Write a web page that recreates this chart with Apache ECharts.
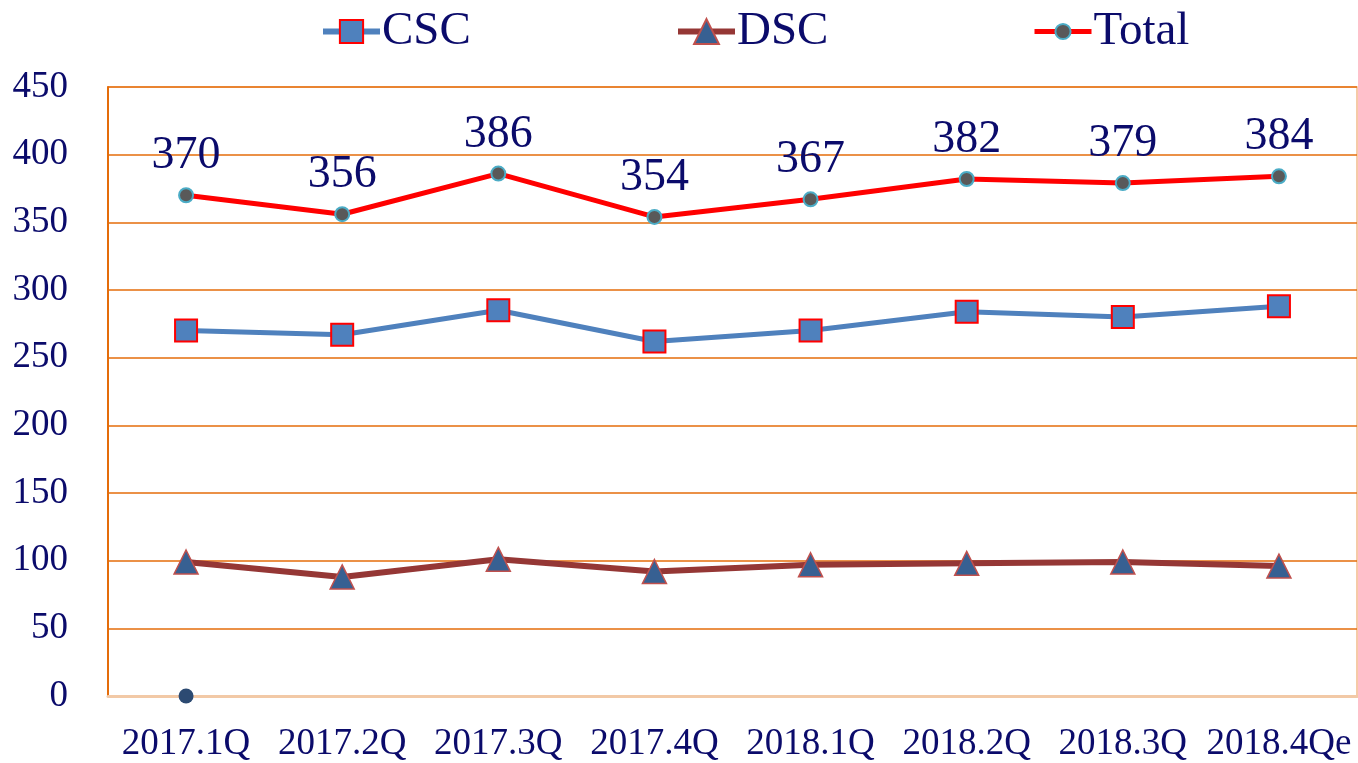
<!DOCTYPE html>
<html>
<head>
<meta charset="utf-8">
<script src="https://cdn.jsdelivr.net/npm/echarts@6/dist/echarts.min.js"></script>
<style>
  html, body { margin: 0; padding: 0; background: #fff; }
  #chart { width: 1358px; height: 763px; }
</style>
</head>
<body>
<div id="chart"></div>
<script>
// Quarters on the x axis
const quarters = ['2017.1Q', '2017.2Q', '2017.3Q', '2017.4Q', '2018.1Q', '2018.2Q', '2018.3Q', '2018.4Qe'];
// Series values
const cscValues = [270, 267, 285, 262, 270, 284, 280, 288];
const dscValues = [99, 88, 101, 92, 97, 98, 99, 96];
const totalValues = [370, 356, 386, 354, 367, 382, 379, 384];
// Stray point sitting on zero at the first quarter
const zeroDot = [0, null, null, null, null, null, null, null];

const navy = '#0b0b6b';
const serif = '"Liberation Serif", "DejaVu Serif", serif';

// one legend per series so every icon can have its own size
function legendFor(name, left, itemHeight, lineWidth) {
  return {
    data: [{ name: name, lineStyle: { width: lineWidth } }],
    top: 3,
    left: left,
    itemWidth: 57,
    itemHeight: itemHeight,
    textStyle: { fontFamily: serif, fontSize: 47, color: navy, padding: [0, 0, 0, -3] }
  };
}

const chart = echarts.init(document.getElementById('chart'), null, { renderer: 'canvas' });

chart.setOption({
  animation: false,
  backgroundColor: '#fff',
  textStyle: { fontFamily: serif },
  legend: [
    legendFor('CSC', 315, 29, 6),
    legendFor('DSC', 670, 31, 6),
    legendFor('Total', 1027, 19, 5)
  ],
  grid: {
    left: 108, right: 1, top: 87, bottom: 65,
    show: true, borderColor: '#F3B98A', borderWidth: 1.5
  },
  xAxis: {
    type: 'category',
    data: quarters,
    axisLine: { lineStyle: { color: '#F2C9A6', width: 3 } },
    axisTick: { show: false },
    axisLabel: { interval: 0, fontFamily: serif, fontSize: 37, color: navy, margin: 30 }
  },
  yAxis: {
    type: 'value',
    min: 0, max: 450, interval: 50,
    axisLine: { show: true, lineStyle: { color: '#E46C0A', width: 2 } },
    axisTick: { show: false },
    splitLine: { lineStyle: { color: '#E46C0A', width: 1.5 } },
    axisLabel: { fontFamily: serif, fontSize: 37, color: navy, margin: 40 }
  },
  series: [
    {
      name: 'CSC',
      type: 'line',
      data: cscValues,
      symbol: 'rect',
      symbolSize: 22,
      lineStyle: { color: '#4F81BD', width: 5 },
      itemStyle: { color: '#4F81BD', borderColor: '#FF0000', borderWidth: 2 }
    },
    {
      name: 'DSC',
      type: 'line',
      data: dscValues,
      symbol: 'triangle',
      symbolSize: 24,
      lineStyle: { color: '#953735', width: 6 },
      itemStyle: { color: '#376092', borderColor: '#C0504D', borderWidth: 1.5 }
    },
    {
      name: 'Total',
      type: 'line',
      data: totalValues,
      symbol: 'circle',
      symbolSize: 14,
      lineStyle: { color: '#FF0000', width: 5 },
      itemStyle: { color: '#595959', borderColor: '#4BACC6', borderWidth: 2 },
      label: {
        show: true,
        position: 'top',
        distance: 8,
        fontFamily: serif,
        fontSize: 46,
        color: navy
      }
    },
    {
      name: 'zero',
      type: 'line',
      data: zeroDot,
      symbol: 'circle',
      symbolSize: 15,
      showSymbol: true,
      lineStyle: { width: 0 },
      itemStyle: { color: '#2C4A72' }
    }
  ]
});
</script>
</body>
</html>
